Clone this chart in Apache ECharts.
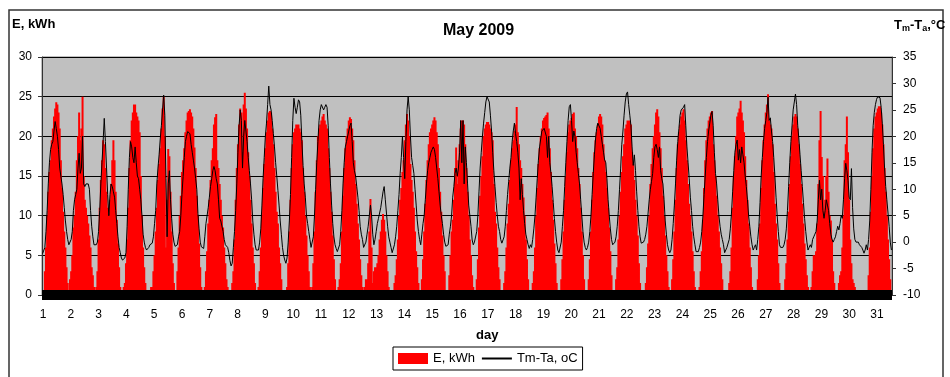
<!DOCTYPE html>
<html>
<head>
<meta charset="utf-8">
<script src="https://cdn.jsdelivr.net/npm/echarts@6.0.0/dist/echarts.min.js"></script>
<style>
  html, body { margin: 0; padding: 0; background: #fff; }
  #chart { width: 950px; height: 377px; }
</style>
</head>
<body>
<div id="chart"></div>
<script>
// hourly readings, May 2009 - one row per day, starting at sunrise
const energy = [
  0, 0,
  3, 6, 10, 13, 15.5, 17, 19.5, 21, 22.5, 23.5, 24.3, 24, 23, 21, 17, 13.5, 10.5, 8, 6, 3.5, 1.5, 0,
  2, 3, 5, 8.5, 10, 13, 17, 20, 23, 19.5, 21, 25, 15, 12, 11, 10, 9, 7.5, 6, 3.5, 2.5, 1, 0,
  1, 3, 7, 11, 14.5, 17, 19.5, 19, 16, 13, 11, 10, 12, 14, 17, 19.5, 17, 13, 9.5, 6.5, 3.5, 1, 0, 0,
  1, 1.5, 4, 7, 11, 16, 19.5, 22, 23, 24, 24, 23, 22.5, 22, 20.5, 15, 10, 6, 3.5, 1.5, 0, 0, 0, 0,
  1, 1, 3, 5, 8, 11, 14.5, 16.5, 18.5, 21, 23.5, 25, 20, 6, 12, 18.4, 17.5, 13, 8, 4, 1.5, 0, 0,
  3, 6, 10, 12.5, 15.5, 17, 18.5, 20.5, 22, 23, 23.2, 23.4, 23, 22.5, 21, 18.6, 16, 12.5, 10, 6.5, 3.5, 1, 0, 0,
  1, 3, 5.5, 9, 12, 14.5, 17, 18.5, 21.5, 22.4, 22.8, 17, 16, 14, 12, 10, 8.5, 6, 4, 2, 1, 0, 0, 0,
  1.5, 3, 7, 12, 16, 19, 21.5, 23.5, 23, 18, 24, 25.5, 23.5, 21, 18, 15, 12, 9, 6, 4, 1.5, 0, 0,
  1, 3, 6, 10, 13.5, 16.5, 18.5, 20.5, 22, 23, 23.2, 23, 21, 19, 16, 13, 10.5, 9, 6, 4, 2, 0.5, 0, 0, 0,
  1, 4, 8, 12, 16, 19, 20.5, 21, 21.5, 21.5, 21.5, 21, 20.5, 19.5, 16, 13, 10, 7.5, 5, 3, 1, 0,
  1, 4, 8, 13, 17, 20, 21, 21.5, 22, 22.5, 22.8, 22, 21.5, 21, 18.5, 16, 13, 10.5, 7.5, 4.5, 2, 0.5, 0,
  1, 2, 4, 8, 12.5, 16, 18.5, 20, 21, 22, 22.4, 22.2, 21, 19.5, 17, 14, 11.5, 9, 7, 4.5, 2.5, 1, 0,
  1, 2, 2, 4, 8, 12.1, 6, 1.5, 3, 3.5, 3.5, 4, 5, 7, 8, 9.5, 10.2, 9.5, 8, 5, 3, 1, 0, 0, 0,
  0.5, 1.5, 2.5, 4.5, 7, 10, 12, 13.5, 15.5, 17, 19.5, 21.5, 22.8, 22, 20, 16.5, 14.5, 13, 11, 8, 5.5, 3.5, 1.5, 0,
  0.5, 2, 4.5, 8, 11.5, 14.5, 17, 19, 20.5, 21, 21.5, 22, 22.4, 22, 20.5, 19, 16, 13, 10.5, 7.5, 5, 3, 0.5, 0,
  0.5, 2.5, 5, 8, 9.5, 12, 16, 18.6, 14, 17, 19, 21, 22, 22, 21.5, 19, 16, 13, 10, 7, 5, 2.5, 1, 0,
  0.5, 2, 4.5, 8.5, 12.5, 15, 17.5, 20, 21, 21.5, 21.8, 21.8, 21.5, 21, 20.5, 19.5, 14, 10.5, 9, 6, 3.5, 2, 0.5, 0,
  0.5, 1.5, 3, 6, 9, 11.5, 14.5, 17, 18.5, 19.5, 20.7, 21.5, 23.7, 20.5, 19, 17, 16, 14, 12.3, 10, 7, 4.5, 2, 0.5, 0,
  0.5, 1.5, 3, 6, 10, 13.5, 16.5, 18.5, 20, 21, 22, 22.3, 22.5, 22.7, 23, 21, 18.5, 15.5, 12, 9.5, 6.5, 4, 1.5, 0, 0,
  0.5, 2, 4.5, 8, 12, 15, 18, 20.5, 21.5, 22, 22.3, 22.8, 23, 21, 20, 18.5, 16, 14, 11, 8, 5, 2, 0.5, 0,
  0.5, 2, 4.5, 8, 12, 15.5, 18, 19.5, 20.5, 21.5, 22.5, 22.8, 22.5, 21.5, 19, 17, 15.5, 13.5, 11, 8.5, 5.5, 2.5, 0.5, 0,
  0.5, 2, 3.5, 7, 10, 13, 15.5, 17.5, 19, 21, 21.5, 22, 22, 22, 21.5, 18, 16.5, 14.5, 12, 10, 7.5, 4, 1.5, 0, 0, 0,
  0.5, 1.5, 3.5, 6.5, 10, 14, 16.5, 18.5, 20, 21.5, 23, 23.4, 22.5, 20.5, 18.5, 16, 12.5, 10, 7.5, 5, 3, 1, 0,
  0.5, 2, 4.5, 8, 12, 16, 19, 20.5, 21.5, 22.5, 23, 23.4, 22, 19.5, 17, 14, 11.5, 10, 8, 5.5, 3, 1, 0, 0, 0,
  1, 3, 5.5, 9.5, 13.5, 17, 19.5, 21, 22, 22.5, 23, 23.2, 19, 17, 15, 12.5, 10, 8, 6, 4, 2, 0.5, 0, 0, 0,
  0.5, 1.5, 3, 6, 11, 15, 17.5, 20, 22.5, 23, 23.5, 24.5, 23, 22, 20.5, 17.5, 14.5, 12, 9, 6, 3.5, 1, 0, 0, 0,
  0.5, 2, 5, 9, 13.5, 17, 19.5, 21.5, 23, 24, 25.3, 22, 21.5, 21, 19, 15.5, 11.5, 9, 7, 4, 1.5, 0, 0, 0,
  0.5, 2, 4, 7, 10.5, 14, 17.5, 20, 21.5, 22.5, 22.8, 22.5, 21, 19, 16.5, 14, 11.5, 9, 6.5, 4.5, 2.5, 1, 0, 0,
  1, 3, 5, 5, 5.5, 9, 14, 19.5, 23.2, 17.4, 15, 10, 12, 15, 17.2, 13, 10, 9.4, 7, 3, 1.5, 0, 0, 0,
  1.5, 2.5, 3, 6, 10, 17, 19, 22.5, 18, 12, 7, 4, 2, 1.5, 1, 0, 0, 0, 0, 0, 0, 0, 0, 0, 0,
  0.5, 2.5, 6, 10.5, 15, 18.5, 21, 22.5, 23, 23.5, 23.8, 23.8, 23, 21.5, 19, 16, 13, 10, 7, 4.5, 2, 0.5
];

const tempDiff = [
  -2.2, -2,
  -1, 2, 6, 11, 15, 17.5, 18.5, 19, 21, 22.8, 21.5, 20, 17.5, 14, 12.5, 11, 9, 6.5, 4, 2, 0.5, -0.5,
  -0.5, 0.5, 2, 6, 8, 9, 10, 14, 16.8, 13, 14, 20, 11, 10.5, 11, 11, 11, 10, 6, 3, 1, -0.5, -0.8,
  -0.5, 0, 2, 6, 11, 15, 19, 23.4, 19, 14, 9, 5, 9, 11, 10.5, 9.5, 8.5, 6, 3.5, 1, -1, -2, -3, -3.4,
  -3.4, -3, -2, 3, 10, 16, 19, 18, 16, 15, 18, 15, 12.5, 12, 10, 8, 5, 1.5, 0, -1, -1.5, -1.5, -1, -0.5,
  -0.5, -0.2, 1, 3.5, 6, 11, 14, 16.5, 19.5, 22, 25, 27.8, 24, 12, 1, 11, 13.5, 8, 4.5, 1.5, 0, -0.8, -0.5,
  -0.5, 1, 2, 5, 9, 12.4, 16, 19, 20, 20.9, 21, 20.5, 18.5, 17, 15.5, 14, 12, 10, 5.4, 2.5, 0, -0.9, -1.1, -1.2,
  1, 3.5, 5, 6.5, 8.5, 10.5, 12, 13.5, 14.3, 13.5, 12, 11, 8, 4.5, 4, 4, 2, 0.5, -0.5, -0.5, -1, -2, -3.5, -4.5,
  -4, -1, 2, 6, 11, 17, 22, 25, 23, 14, 20, 23, 21, 19, 16, 13.5, 11, 8, 4, 1.5, -0.5, -1.5, -1.8,
  -1.5, 0, 2.5, 7, 12, 16, 20, 22.5, 26, 29.5, 26, 25, 23, 20.5, 18, 15, 12.5, 9.8, 7, 4, 1.5, -1, -2.5, -3.4, -4,
  -3, 0, 4, 9, 16, 23, 27.2, 25.5, 24.3, 25.5, 26.9, 26.5, 24, 19, 14.5, 11, 8.5, 5, 3.5, 2, 0.5, -1,
  -1, 1, 5, 10, 15, 19, 23, 25, 26, 26.2, 25, 25.5, 26, 25.5, 22, 16, 11, 7, 3.5, 1, -0.5, -1.2, -1.8,
  -1.8, -0.5, 2, 6, 11, 15, 18, 19, 19, 21, 22, 22.5, 19, 15, 13.5, 12.5, 10.5, 8.5, 6, 3, 1.5, 0.5, -1,
  -1, 0, 1.5, 3, 5, 7, 5, 1.5, -0.5, 0.5, 2, 3.5, 4.5, 5.5, 6.5, 8, 9.5, 10.5, 8, 5.5, 3, 1, 0, -1, -2,
  -2, -0.5, 1, 3, 6, 9, 13, 16, 20, 16, 12, 19, 25, 27.5, 25, 20, 16, 14.5, 13, 10, 7, 4, 2, 0.5,
  -0.5, 1.5, 3.5, 5, 8, 11, 13.5, 15, 16, 17, 17.5, 18, 17.5, 16, 14, 12, 9.5, 7, 5, 3.5, 1.5, 0, -0.8, -0.5,
  -0.5, 1.5, 3, 5, 8.5, 10.5, 13, 14, 12.5, 14, 17, 23, 15, 23, 11, 18, 15, 11, 7, 5, 3, 0.4, -0.5, 0,
  0, 2, 5, 9.5, 14, 17, 20, 22.5, 24.5, 26.5, 27.5, 27.8, 26.5, 24, 21, 17, 13.5, 10.5, 7.5, 5, 3, 2, 0.5, -0.2,
  -0.2, 1, 3, 6, 9, 11.5, 14, 16, 19, 21, 22.5, 20.5, 19, 17, 14, 8, 12, 9, 6, 3.5, 1.5, 0.5, -0.5, -1.2, -0.5,
  -1, 0.5, 2.5, 5, 8.5, 12, 15.5, 18, 19.5, 21, 21, 21.5, 21.8, 20, 16, 20, 15, 13, 10.5, 7.5, 4.5, 2, 0, -1.5, -2,
  -2, 0, 3, 6, 10.5, 15, 19, 23, 25.6, 26, 23, 19, 21, 20, 17, 15, 13, 11, 8, 5, 2, 0, -1, -1.5,
  -1, 0, 2, 5, 9, 13, 16.5, 19.5, 21.5, 22.5, 22.5, 21.5, 20, 18.5, 17, 15.5, 15, 12, 8, 5, 2.5, 0.5, -0.5, -0.5,
  0, 1, 3, 6, 10, 14, 18.5, 21, 24, 26.5, 28, 28.4, 26, 24, 22, 18, 14.5, 16.5, 13.5, 9.5, 6, 3, 1, -0.2, -0.5, 0,
  0.5, 1.5, 3, 5.5, 8, 10, 11.5, 13, 16, 18, 18.5, 17.5, 16, 18, 13.5, 12, 11, 8, 4, 1.5, -0.5, -1.5, -2,
  -1.5, 0.5, 3.5, 7, 11, 15.5, 19, 21.5, 24, 25, 25, 25.5, 26, 22, 18, 15, 12, 8.5, 6, 3, 1, -0.5, -1.8, -1.5, -1.8,
  -1, 0, 2, 5, 9, 12.5, 16, 19, 21, 22.5, 24, 24.7, 22, 17, 13, 11, 8, 5, 3, 1.5, 0.5, -0.5, -2, -1.5, -1,
  -1, 0.5, 2.5, 5.5, 9.5, 13.5, 17, 18.5, 19.3, 15.5, 17.5, 15, 18, 16.5, 15, 12.5, 10.5, 8, 5, 3, 1, -0.5, -1.5, -1, -0.5,
  -1.5, 0.5, 3, 7.5, 12.5, 16, 19, 21.5, 23, 24.5, 27.4, 23, 23.5, 21, 19, 16, 12.5, 8.5, 5, 2, -0.5, -1, -1, -1,
  -0.5, 0.5, 2.5, 6, 10.5, 15, 19, 22, 25, 26.5, 28, 26, 22, 19.5, 16.5, 13.5, 10.5, 7.5, 4.5, 2, 0, -1.5, -1, -0.5,
  -1, 0.5, 1, 1.5, 2, 4, 8, 11.7, 8, 10, 6, 4.5, 6, 8, 7, 6, 3.5, 1.5, 0.5, 0, 0.5, 1, 2, 3,
  2.3, 3.5, 5, 4.5, 8, 12, 14.9, 13.5, 11.7, 8.5, 8, 13.9, 6.5, 2.5, 0.5, 0, 0, 0, -0.5, -0.5, -1, -1.5, -2.1, -1.5, -0.5,
  -1.5, 0.5, 4, 10, 17, 22, 24.5, 26, 27, 27.5, 27.8, 27.3, 25.5, 22.5, 18.5, 14, 10.5, 8, 5.5, 3, 0, -1.5
];

const dayLabels = [1, 2, 3, 4, 5, 6, 7, 8, 9, 10, 11, 12, 13, 14, 15, 16,
  17, 18, 19, 20, 21, 22, 23, 24, 25, 26, 27, 28, 29, 30, 31];
const hours = energy.map((v, i) => i);

const font = '"Liberation Sans", Arial, sans-serif';
const chart = echarts.init(document.getElementById('chart'));

const option = {
  animation: false,
  backgroundColor: '#fff',
  textStyle: { fontFamily: font },
  title: {
    text: 'May 2009',
    left: 443,
    top: 23,
    padding: 0,
    textStyle: { fontSize: 16, fontWeight: 'bold', color: '#000', fontFamily: font }
  },
  legend: {
    left: 393,
    top: 347,
    padding: [5, 5, 5, 5],
    itemGap: 6,
    itemWidth: 30,
    itemHeight: 11,
    borderColor: '#000',
    borderWidth: 1,
    backgroundColor: '#fff',
    textStyle: { fontSize: 13, color: '#000', fontFamily: font },
    data: [
      { name: 'E, kWh', icon: 'rect' },
      { name: 'Tm-Ta, oC', itemStyle: { opacity: 0 } }
    ]
  },
  grid: [
    { left: 42, right: 58, top: 57, bottom: 82, show: true,
      backgroundColor: '#c0c0c0', borderColor: '#808080', borderWidth: 1 },
    { left: 43, right: 73, top: 57, bottom: 82 }
  ],
  xAxis: [
    {
      type: 'category', gridIndex: 0, data: hours, z: 5,
      axisLine: { onZero: false, lineStyle: { color: '#000', width: 10, cap: 'butt' } },
      axisTick: { show: false }, axisLabel: { show: false }, splitLine: { show: false }
    },
    {
      type: 'value', gridIndex: 1, min: dayLabels[0], max: dayLabels[dayLabels.length - 1], interval: 1,
      axisLine: { show: false }, axisTick: { show: false }, splitLine: { show: false },
      axisLabel: { fontSize: 12, color: '#000', margin: 14, fontFamily: font }
    }
  ],
  yAxis: [
    {
      type: 'value', gridIndex: 0, min: 0, max: 30, interval: 5,
      axisLine: { show: true, lineStyle: { color: '#333' } },
      axisTick: { show: true, length: 4, lineStyle: { color: '#333' } },
      axisLabel: { fontSize: 12, color: '#000', margin: 10, fontFamily: font },
      splitLine: { show: true, lineStyle: { color: '#000', width: 1 } }
    },
    {
      type: 'value', gridIndex: 0, position: 'right', min: -10, max: 35, interval: 5,
      axisLine: { show: true, lineStyle: { color: '#333' } },
      axisTick: { show: true, length: 4, lineStyle: { color: '#333' } },
      axisLabel: { fontSize: 12, color: '#000', margin: 11, fontFamily: font },
      splitLine: { show: false }
    },
    { type: 'value', gridIndex: 1, show: false }
  ],
  series: [
    {
      name: 'E, kWh', type: 'bar', xAxisIndex: 0, yAxisIndex: 0, data: energy,
      itemStyle: { color: '#ff0000' }, barWidth: 2, large: true, largeThreshold: 100
    },
    {
      name: 'Tm-Ta, oC', type: 'line', xAxisIndex: 0, yAxisIndex: 1, data: tempDiff,
      symbol: 'none', lineStyle: { color: '#000', width: 1 }, itemStyle: { color: '#000' }, z: 3
    }
  ],
  graphic: [
    { type: 'rect', silent: true, shape: { x: 9, y: 10, width: 934, height: 400 },
      style: { fill: 'none', stroke: '#333', lineWidth: 1.5 } },
    { type: 'text', left: 12, top: 18,
      style: { text: 'E, kWh', font: 'bold 13px ' + font, fill: '#000' } },
    { type: 'text', left: 894, top: 19,
      style: {
        text: '{b|T}{s|m}{b|-T}{s|a}{b|,°C}',
        rich: {
          b: { fontSize: 13, fontWeight: 'bold', fontFamily: font, fill: '#000' },
          s: { fontSize: 9, fontWeight: 'bold', fontFamily: font, fill: '#000',
               verticalAlign: 'bottom', padding: [7, 0, 0, 0] }
        }
      } },
    { type: 'text', left: 476, top: 329,
      style: { text: 'day', font: 'bold 13px ' + font, fill: '#000' } }
  ]
};

chart.setOption(option);
</script>
</body>
</html>
